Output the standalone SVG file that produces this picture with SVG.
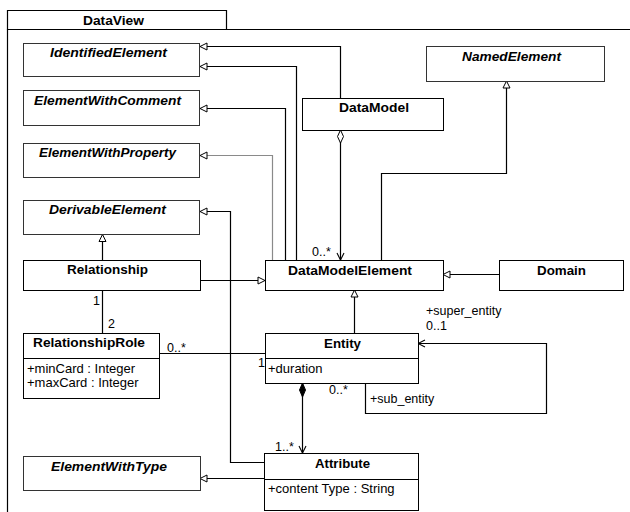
<svg xmlns="http://www.w3.org/2000/svg" width="630" height="512" viewBox="0 0 630 512">
  <style>
    .box { fill: #ffffff; stroke: #000000; stroke-width: 1; }
    .abs { fill: #ffffff; stroke: #333333; stroke-width: 1; }
    .frame { fill: none; stroke: #000000; stroke-width: 1.2; }
    .edge { fill: none; stroke: #000000; stroke-width: 1.2; }
    .edge.light { stroke: #8a8a8a; }
    .name { font-family: "Liberation Sans", Arial, sans-serif; font-size: 12.5px; font-weight: bold; fill: #000000; }
    .name.it { font-style: italic; }
    .attr { font-family: "Liberation Sans", Arial, sans-serif; font-size: 13px; fill: #000000; }
    .lbl { font-family: "Liberation Sans", Arial, sans-serif; font-size: 12.5px; fill: #000000; }
  </style>
  <defs>
    <!-- hollow triangle for generalization -->
    <marker id="gen" markerUnits="userSpaceOnUse" markerWidth="10" markerHeight="10" viewBox="-1 -5 9 10" refX="7" refY="0" orient="auto">
      <path d="M0,-3.5 L7,0 L0,3.5 Z" fill="#ffffff" stroke="#000000" stroke-width="1"/>
    </marker>
    <!-- open arrow for navigable association end -->
    <marker id="nav" markerUnits="userSpaceOnUse" markerWidth="10" markerHeight="10" viewBox="-1 -5 9 10" refX="7" refY="0" orient="auto">
      <path d="M0,-3.5 L7,0 L0,3.5" fill="none" stroke="#000000" stroke-width="1.1"/>
    </marker>
    <!-- hollow diamond for aggregation -->
    <marker id="agg" markerUnits="userSpaceOnUse" markerWidth="16" markerHeight="10" viewBox="-1 -5 16 10" refX="0" refY="0" orient="auto">
      <path d="M0,0 L6.5,-3 L13,0 L6.5,3 Z" fill="#ffffff" stroke="#000000" stroke-width="1"/>
    </marker>
    <!-- filled diamond for composition -->
    <marker id="comp" markerUnits="userSpaceOnUse" markerWidth="16" markerHeight="10" viewBox="-1 -5 16 10" refX="0" refY="0" orient="auto">
      <path d="M0,0 L7,-3 L14,0 L7,3 Z" fill="#000000" stroke="#000000" stroke-width="1"/>
    </marker>
  </defs>

  <rect x="0" y="0" width="630" height="512" fill="#ffffff"/>

  <!-- package frame -->
  <g id="package-DataView">
    <path class="frame" d="M7.5,29.5 V10.5 H226.5 V29.5"/>
    <path class="frame" d="M7.5,512 V29.5 H630"/>
    <text class="name" x="83" y="25" textLength="61" lengthAdjust="spacingAndGlyphs">DataView</text>
  </g>

  <!-- connectors -->
  <g id="connectors">
    <path class="edge" d="M340.5,98 V46.5 H200" marker-end="url(#gen)"/>
    <path class="edge" d="M296.5,260 V66.5 H200" marker-end="url(#gen)"/>
    <path class="edge" d="M285.5,260 V108.5 H200" marker-end="url(#gen)"/>
    <path class="edge light" d="M272.5,260 V155.5 H200" marker-end="url(#gen)"/>
    <path class="edge" d="M264,462.5 H230.5 V211.5 H200" marker-end="url(#gen)"/>
    <path class="edge" d="M102.5,260 V234.5" marker-end="url(#gen)"/>
    <path class="edge" d="M200,280.5 H265" marker-end="url(#gen)"/>
    <path class="edge" d="M499,274.5 H443" marker-end="url(#gen)"/>
    <path class="edge" d="M381.5,260 V173.5 H506.5 V81" marker-end="url(#gen)"/>
    <path class="edge" d="M354.5,333 V290" marker-end="url(#gen)"/>
    <path class="edge" d="M340.5,130 V260" marker-start="url(#agg)" marker-end="url(#nav)"/>
    <path class="edge" d="M102.5,290 V333"/>
    <path class="edge" d="M159,353.5 H265"/>
    <path class="edge" d="M365.5,383 V413.5 H546.5 V343.5 H418" marker-end="url(#nav)"/>
    <path class="edge" d="M302.5,383 V453" marker-start="url(#comp)" marker-end="url(#nav)"/>
    <path class="edge" d="M264,478.5 H200" marker-end="url(#gen)"/>

    <text class="lbl" x="312" y="256">0..*</text>
    <text class="lbl" x="93" y="305">1</text>
    <text class="lbl" x="108" y="328">2</text>
    <text class="lbl" x="167" y="352">0..*</text>
    <text class="lbl" x="258" y="367">1</text>
    <text class="lbl" x="426" y="315">+super_entity</text>
    <text class="lbl" x="426" y="330">0..1</text>
    <text class="lbl" x="329" y="394">0..*</text>
    <text class="lbl" x="370" y="403">+sub_entity</text>
    <text class="lbl" x="275" y="451">1..*</text>
  </g>

  <!-- classes -->
  <g id="IdentifiedElement">
    <rect class="abs" x="23.5" y="43.5" width="176" height="33"/>
    <text class="name it" x="50" y="57" textLength="117" lengthAdjust="spacingAndGlyphs">IdentifiedElement</text>
  </g>
  <g id="ElementWithComment">
    <rect class="abs" x="23.5" y="90.5" width="176" height="35"/>
    <text class="name it" x="34" y="105" textLength="147" lengthAdjust="spacingAndGlyphs">ElementWithComment</text>
  </g>
  <g id="ElementWithProperty">
    <rect class="abs" x="23.5" y="143.5" width="176" height="34"/>
    <text class="name it" x="39" y="157" textLength="137" lengthAdjust="spacingAndGlyphs">ElementWithProperty</text>
  </g>
  <g id="DerivableElement">
    <rect class="abs" x="23.5" y="200.5" width="176" height="34"/>
    <text class="name it" x="49" y="214" textLength="117" lengthAdjust="spacingAndGlyphs">DerivableElement</text>
  </g>
  <g id="NamedElement">
    <rect class="abs" x="426.5" y="46.5" width="178" height="35"/>
    <text class="name it" x="462" y="61" textLength="99" lengthAdjust="spacingAndGlyphs">NamedElement</text>
  </g>
  <g id="ElementWithType">
    <rect class="abs" x="23.5" y="456.5" width="177" height="34"/>
    <text class="name it" x="51" y="471" textLength="116" lengthAdjust="spacingAndGlyphs">ElementWithType</text>
  </g>
  <g id="DataModel">
    <rect class="box" x="302.5" y="98.5" width="141" height="32"/>
    <text class="name" x="339" y="112" textLength="70" lengthAdjust="spacingAndGlyphs">DataModel</text>
  </g>
  <g id="Relationship">
    <rect class="box" x="23.5" y="260.5" width="177" height="30"/>
    <text class="name" x="67" y="274" textLength="81" lengthAdjust="spacingAndGlyphs">Relationship</text>
  </g>
  <g id="DataModelElement">
    <rect class="box" x="265.5" y="260.5" width="178" height="30"/>
    <text class="name" x="288" y="275" textLength="124" lengthAdjust="spacingAndGlyphs">DataModelElement</text>
  </g>
  <g id="Domain">
    <rect class="box" x="499.5" y="260.5" width="124" height="30"/>
    <text class="name" x="537" y="275" textLength="49" lengthAdjust="spacingAndGlyphs">Domain</text>
  </g>
  <g id="RelationshipRole">
    <rect class="box" x="23.5" y="333.5" width="136" height="65"/>
    <line class="box" x1="23.5" y1="358.5" x2="159.5" y2="358.5"/>
    <text class="name" x="33" y="347" textLength="112" lengthAdjust="spacingAndGlyphs">RelationshipRole</text>
    <text class="attr" x="27" y="373">+minCard : Integer</text>
    <text class="attr" x="27" y="387">+maxCard : Integer</text>
  </g>
  <g id="Entity">
    <rect class="box" x="265.5" y="333.5" width="153" height="50"/>
    <line class="box" x1="265.5" y1="358.5" x2="418.5" y2="358.5"/>
    <text class="name" x="324" y="348" textLength="37" lengthAdjust="spacingAndGlyphs">Entity</text>
    <text class="attr" x="268" y="373">+duration</text>
  </g>
  <g id="Attribute">
    <rect class="box" x="264.5" y="453.5" width="154" height="57"/>
    <line class="box" x1="264.5" y1="479.5" x2="418.5" y2="479.5"/>
    <text class="name" x="315" y="468" textLength="55" lengthAdjust="spacingAndGlyphs">Attribute</text>
    <text class="attr" x="268" y="493">+content Type : String</text>
  </g>
</svg>
